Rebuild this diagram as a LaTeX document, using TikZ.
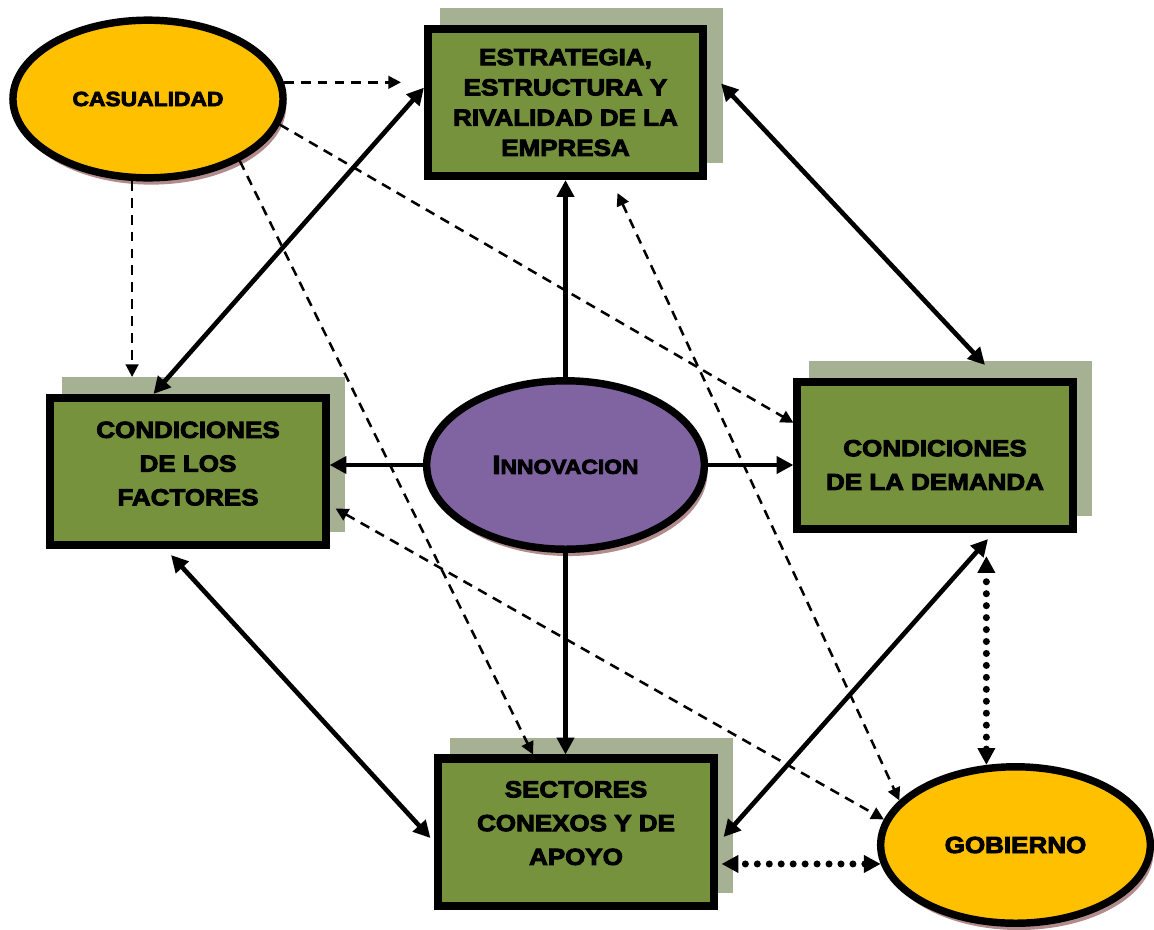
\documentclass[tikz,border=0pt]{standalone}
\usepackage{fontspec}
\usetikzlibrary{arrows.meta}
\usetikzlibrary{shapes.geometric}
\usetikzlibrary{shadows}
\usetikzlibrary{calc}

\definecolor{verde}{RGB}{118,146,60}
\definecolor{verdesombra}{RGB}{166,176,146}
\definecolor{amarillo}{RGB}{255,192,0}
\definecolor{morado}{RGB}{128,100,162}
\definecolor{sombra}{RGB}{178,140,140}
\newfontfamily\lblfont[FakeStretch=1.12,FakeBold=4]{Liberation Sans Bold}

\begin{document}
\begin{tikzpicture}[x=0.025cm, y=-0.025cm,
  caja/.style={rectangle, draw=black, line width=5.7pt, fill=verde, minimum width=6.875cm, minimum height=3.675cm, inner sep=0pt, align=center, font=\lblfont\fontsize{16.5}{24}\selectfont,
    general shadow={draw=verdesombra, fill=verdesombra, line width=5.7pt, shadow xshift=0.39cm, shadow yshift=0.42cm}},
  ovalo/.style={ellipse, draw=black, line width=5.3pt, inner sep=0pt, align=center, font=\lblfont\fontsize{16.5}{24}\selectfont,
    general shadow={fill=sombra, shadow xshift=0.08cm, shadow yshift=-0.17cm}},
  flecha/.style={line width=3.3pt, -{Triangle[length=12pt,width=12pt]}},
  doble/.style={line width=3.3pt, {Triangle[length=12pt,width=12pt]}-{Triangle[length=12pt,width=12pt]}},
  rayas/.style={line width=1.8pt, dash pattern=on 7pt off 5pt, -{Triangle[length=9pt,width=9pt]}},
  rayasdoble/.style={rayas, {Triangle[length=9pt,width=9pt]}-{Triangle[length=9pt,width=9pt]}},
  puntos/.style={line width=5pt, line cap=round, dash pattern=on 0pt off 8.5pt, {Triangle[length=12pt,width=12pt]}-{Triangle[length=12pt,width=12pt]}},
]
\useasboundingbox (0,0) rectangle (1154,929);

% los cuatro determinantes
\node[caja, font=\lblfont\fontsize{16.5}{21.5}\selectfont] (estrategia) at (565.5,102.5) {ESTRATEGIA,\\ESTRUCTURA Y\\RIVALIDAD DE LA\\EMPRESA};
\node[caja, text depth=11.4pt] (factores) at (188,471.5) {CONDICIONES\\DE LOS\\FACTORES};
\node[caja, text height=49pt] (demanda) at (935,455.5) {CONDICIONES\\DE LA DEMANDA};
\node[caja, text depth=12.8pt] (sectores) at (576,832) {SECTORES\\CONEXOS Y DE\\APOYO};

% ovalos
\node[ovalo, fill=amarillo, minimum width=6.75cm, minimum height=3.94cm, font=\lblfont\fontsize{14.5}{20}\selectfont] (casualidad) at (148,99) {CASUALIDAD};
\node[ovalo, fill=morado, minimum width=6.94cm, minimum height=4.21cm] (innovacion) at (565.5,465) {{\fontsize{18.5}{20}\selectfont I}{\fontsize{14.5}{20}\selectfont NNOVACION}};
\node[ovalo, fill=amarillo, minimum width=6.74cm, minimum height=3.91cm] (gobierno) at (1015.5,845) {GOBIERNO};

% innovacion
\draw[flecha] (innovacion.north) -- (innovacion.north |- estrategia.south);
\draw[flecha] (innovacion.west) -- (innovacion.west -| factores.east);
\draw[flecha] (innovacion.east) -- (innovacion.east -| demanda.west);
\draw[flecha] (innovacion.south) -- (innovacion.south |- sectores.north);

% rombo
\draw[doble] (factores.114) -- (estrategia.174);
\draw[doble] ([shift={(14,-19)}]estrategia.east) -- ([shift={(50,-13)}]demanda.north);
\draw[doble] ([shift={(-17,6)}]factores.south) -- ([shift={(-4,6)}]sectores.west);
\draw[doble] ([shift={(53,6)}]demanda.south) -- ([shift={(6,5)}]sectores.east);

% casualidad
\draw[rayas, shorten >=0.575cm] (casualidad.7) -- (casualidad.7 -| estrategia.west);
\draw[rayas, shorten >=0.425cm] (casualidad.259) -- (casualidad.259 |- factores.north);
\draw[rayas] (casualidad.349) -- (demanda.167);
\draw[rayas] (casualidad.326) -- (sectores.119);

% gobierno
\draw[rayasdoble] ([shift={(52,13)}]estrategia.south) -- (gobierno.159);
\draw[rayasdoble] ([shift={(6,37)}]factores.east) -- (gobierno.169);
\draw[puntos] (gobierno.110) -- ([yshift=-0.575cm]gobierno.110 |- demanda.south);
\draw[puntos] (gobierno.188) -- ([xshift=0.1cm]gobierno.188 -| sectores.east);
\end{tikzpicture}
\end{document}
